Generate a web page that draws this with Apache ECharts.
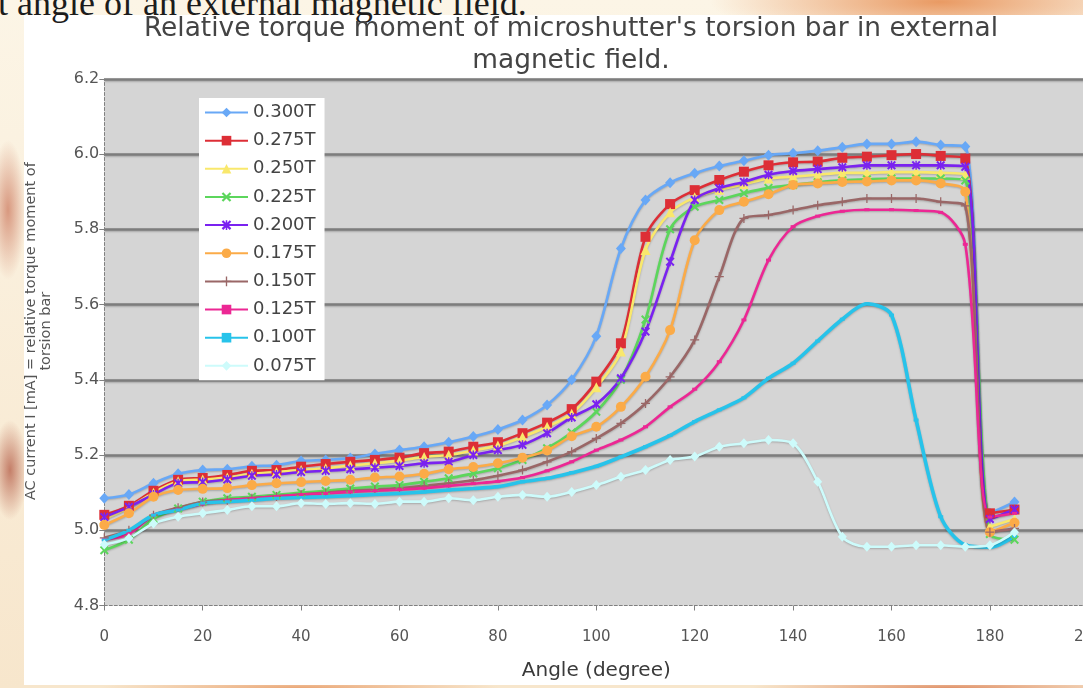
<!DOCTYPE html>
<html>
<head>
<meta charset="utf-8">
<script src="https://cdn.jsdelivr.net/npm/echarts@6/dist/echarts.min.js"></script>
<style>
html,body{margin:0;padding:0;width:1083px;height:688px;overflow:hidden;}
body{
  position:relative;
  background:
    radial-gradient(ellipse 230px 40px at 940px 2px, #e99a63 0%, rgba(233,154,99,0) 100%),
    radial-gradient(ellipse 18px 70px at 8px 210px, #d8987f 0%, rgba(216,152,127,0) 100%),
    radial-gradient(ellipse 18px 50px at 10px 470px, #c47e68 0%, rgba(196,126,104,0) 100%),
    radial-gradient(ellipse 200px 10px at 300px 688px, #eaa676 0%, rgba(234,166,118,0) 100%),
    radial-gradient(ellipse 200px 10px at 950px 688px, #e0926a 0%, rgba(224,146,106,0) 100%),
    linear-gradient(#fcf5e6, #f7e6cc);
}
#paper{position:absolute;left:24px;top:15px;width:1059px;height:670px;background:#ffffff;}
#cap{position:absolute;left:-2px;top:-15px;font-family:'Liberation Serif',serif;font-size:36px;line-height:36px;color:#1c1c1c;white-space:nowrap;}
#chart{position:absolute;left:0;top:0;width:1083px;height:688px;}
</style>
</head>
<body>
<div id="paper"></div>
<div id="cap">t angle of an external magnetic field.</div>
<div id="chart"></div>
<script>
// ---- data ----
const angles = [0,5,10,15,20,25,30,35,40,45,50,55,60,65,70,75,80,85,90,95,100,105,110,115,120,125,130,135,140,145,150,155,160,165,170,175,180,185];
const seriesNames = ['0.300T','0.275T','0.250T','0.225T','0.200T','0.175T','0.150T','0.125T','0.100T','0.075T'];
const t300 = [5.085,5.095,5.125,5.15,5.16,5.162,5.17,5.173,5.184,5.187,5.192,5.203,5.213,5.222,5.234,5.249,5.268,5.293,5.333,5.40,5.516,5.749,5.878,5.924,5.949,5.968,5.982,5.997,6.002,6.009,6.018,6.027,6.027,6.033,6.024,6.02,5.045,5.075];
const t275 = [5.041,5.065,5.105,5.134,5.139,5.147,5.158,5.16,5.169,5.176,5.182,5.187,5.193,5.205,5.209,5.222,5.234,5.258,5.286,5.322,5.395,5.497,5.78,5.867,5.904,5.931,5.953,5.97,5.978,5.98,5.99,5.993,5.997,6.0,5.995,5.988,5.045,5.055];
const t250 = [5.03,5.06,5.10,5.13,5.135,5.14,5.15,5.155,5.16,5.165,5.172,5.178,5.185,5.195,5.20,5.212,5.225,5.248,5.275,5.31,5.38,5.475,5.745,5.845,5.885,5.905,5.92,5.935,5.94,5.945,5.95,5.95,5.952,5.952,5.95,5.945,5.01,5.03];
const t225 = [4.947,4.975,5.03,5.058,5.076,5.085,5.089,5.094,5.10,5.105,5.111,5.116,5.12,5.129,5.138,5.151,5.165,5.187,5.218,5.26,5.315,5.40,5.56,5.80,5.86,5.878,5.896,5.91,5.918,5.925,5.93,5.933,5.935,5.935,5.935,5.93,4.99,4.975];
const t200 = [5.035,5.062,5.095,5.125,5.128,5.135,5.145,5.148,5.155,5.158,5.162,5.166,5.171,5.178,5.182,5.20,5.213,5.227,5.258,5.30,5.335,5.404,5.528,5.714,5.878,5.909,5.926,5.945,5.955,5.96,5.965,5.97,5.97,5.97,5.97,5.966,5.03,5.055];
const t175 = [5.014,5.045,5.089,5.107,5.11,5.112,5.12,5.125,5.128,5.131,5.134,5.14,5.143,5.15,5.162,5.168,5.178,5.193,5.212,5.25,5.275,5.328,5.408,5.532,5.771,5.851,5.873,5.893,5.918,5.922,5.926,5.927,5.93,5.93,5.922,5.90,4.995,5.02];
const t150 = [4.98,5.0,5.04,5.06,5.075,5.08,5.085,5.09,5.095,5.10,5.105,5.108,5.112,5.118,5.125,5.133,5.145,5.16,5.182,5.209,5.244,5.284,5.337,5.408,5.506,5.674,5.829,5.838,5.851,5.864,5.873,5.882,5.882,5.882,5.873,5.862,4.995,5.005];
const t125 = [4.975,4.99,5.04,5.055,5.07,5.08,5.085,5.09,5.095,5.098,5.102,5.105,5.108,5.112,5.118,5.124,5.13,5.14,5.158,5.182,5.213,5.24,5.275,5.328,5.375,5.448,5.559,5.718,5.807,5.835,5.848,5.852,5.852,5.85,5.845,5.76,5.035,5.045];
const t100 = [4.974,5.0,5.04,5.054,5.072,5.076,5.08,5.085,5.087,5.089,5.092,5.095,5.098,5.102,5.107,5.111,5.116,5.129,5.138,5.153,5.17,5.195,5.222,5.252,5.289,5.32,5.352,5.404,5.444,5.503,5.561,5.602,5.572,5.293,5.036,4.961,4.955,4.985];
const t075 = [4.962,4.979,5.018,5.036,5.045,5.054,5.064,5.064,5.072,5.07,5.072,5.07,5.076,5.076,5.085,5.08,5.089,5.094,5.089,5.102,5.12,5.142,5.16,5.187,5.196,5.222,5.231,5.24,5.231,5.129,4.983,4.956,4.956,4.96,4.96,4.956,4.96,4.995];
const xTicks = {min: 0, max: 200, step: 20};
const yTicks = {min: 4.8, max: 6.2, step: 0.2};
const titleText = "Relative torque moment of microshutter's torsion bar in external\nmagnetic field.";
const xName = 'Angle (degree)';
const yName = 'AC current I [mA] = relative torque moment of\ntorsion bar';

// ---- styling ----
const FONT = 'DejaVu Sans';
const SYM_X = 'path://M0,1.6 L1.6,0 L5,3.4 L8.4,0 L10,1.6 L6.6,5 L10,8.4 L8.4,10 L5,6.6 L1.6,10 L0,8.4 L3.4,5 Z';
const SYM_AST = 'path://M0,1.6 L1.6,0 L5,3.4 L8.4,0 L10,1.6 L6.6,5 L10,8.4 L8.4,10 L5,6.6 L1.6,10 L0,8.4 L3.4,5 Z M4.2,0 L5.8,0 L5.8,10 L4.2,10 Z';
const SYM_PLUS = 'path://M4.3,0 L5.7,0 L5.7,4.3 L10,4.3 L10,5.7 L5.7,5.7 L5.7,10 L4.3,10 L4.3,5.7 L0,5.7 L0,4.3 L4.3,4.3 Z';

const styles = [
  {data:t300, color:'#68a8f6', symbol:'diamond', size:[10,11], width:2.6},
  {data:t275, color:'#dd2e36', symbol:'rect', size:10, width:2.6},
  {data:t250, color:'#f9e86c', symbol:'triangle', size:10, width:2.6},
  {data:t225, color:'#5cd65c', symbol:SYM_X, size:9, width:2.6},
  {data:t200, color:'#7a22f0', symbol:SYM_AST, size:9, width:2.6},
  {data:t175, color:'#fbab48', symbol:'circle', size:10, width:2.6},
  {data:t150, color:'#9a6767', symbol:SYM_PLUS, size:9, width:2.6},
  {data:t125, color:'#ec2794', symbol:'rect', size:[5,3], width:2.6},
  {data:t100, color:'#27c3ea', symbol:'rect', size:[5,3], width:3.6},
  {data:t075, color:'#cdfbfb', symbol:'diamond', size:[9,10], width:2.6}
];

const series = styles.map((s, i) => ({
  name: seriesNames[i],
  type: 'line',
  data: angles.map((a, k) => [a, s.data[k]]),
  smooth: 0.3,
  symbol: s.symbol,
  symbolSize: s.size,
  showSymbol: true,
  lineStyle: {color: s.color, width: s.width, shadowColor: 'rgba(0,0,0,0.22)', shadowBlur: 2, shadowOffsetY: 1},
  itemStyle: {color: s.color, borderColor: s.color, borderWidth: 0},
  emphasis: {disabled: true}
}));

const chart = echarts.init(document.getElementById('chart'), null, {renderer: 'canvas'});
chart.setOption({
  animation: false,
  backgroundColor: 'transparent',
  title: {
    text: titleText,
    left: 566, top: 8, textAlign: 'center',
    textStyle: {fontFamily: FONT, fontSize: 26.4, fontWeight: 'normal', color: '#444', lineHeight: 32}
  },
  legend: {
    orient: 'vertical', left: 199, top: 98,
    backgroundColor: '#ffffff', padding: [5, 9, 5, 5],
    itemWidth: 43, itemHeight: 12, itemGap: 9.15,
    textStyle: {fontFamily: FONT, fontSize: 18, color: '#444', lineHeight: 19},
    data: seriesNames
  },
  grid: {
    left: 104.3, right: -5.3, top: 78.8, bottom: 82.5,
    show: true, backgroundColor: '#d5d5d5', borderWidth: 0,
    containLabel: false, outerBoundsMode: 'none'
  },
  xAxis: {
    type: 'value', min: xTicks.min, max: xTicks.max, interval: xTicks.step,
    name: xName, nameLocation: 'middle', nameGap: 55, nameMoveOverlap: false,
    nameTextStyle: {fontFamily: FONT, fontSize: 20, color: '#3a3a3a'},
    axisLine: {show: true, onZero: false, lineStyle: {color: '#808080', type: [3, 2], width: 1}},
    axisTick: {show: true, length: 5, lineStyle: {color: '#808080'}},
    axisLabel: {margin: 24, color: '#555', fontSize: 15, fontFamily: FONT},
    splitLine: {show: false}
  },
  yAxis: {
    type: 'value', min: yTicks.min, max: yTicks.max, interval: yTicks.step,
    name: yName, nameLocation: 'middle', nameRotate: 90, nameGap: 50, nameMoveOverlap: false,
    nameTextStyle: {fontFamily: FONT, fontSize: 14.5, color: '#555', lineHeight: 15.5, padding: [0, 0, 0, 22]},
    axisLine: {show: true, onZero: false, lineStyle: {color: '#808080', type: [3, 2], width: 1}},
    axisTick: {show: true, length: 5, lineStyle: {color: '#808080'}},
    axisLabel: {margin: 5, color: '#555', fontSize: 16, fontFamily: FONT, formatter: v => v.toFixed(1)},
    splitLine: {show: true, showMinLine: false, lineStyle: {color: '#7d7d7d', width: 2.5, shadowColor: 'rgba(0,0,0,0.25)', shadowBlur: 2, shadowOffsetY: 1}}
  },
  series: series
});
</script>
</body>
</html>
